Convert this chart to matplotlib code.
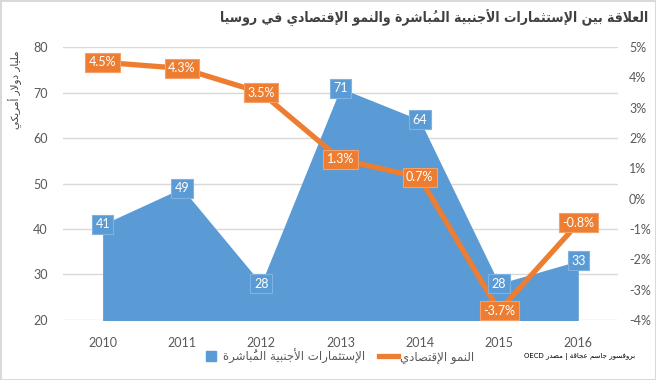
import matplotlib
matplotlib.use("Agg")
import matplotlib.pyplot as plt
from matplotlib.lines import Line2D

years = ["2010", "2011", "2012", "2013", "2014", "2015", "2016"]
fdi = [41, 49, 28, 71, 64, 28, 33]              # billion USD
gdp_growth = [4.5, 4.3, 3.5, 1.3, 0.7, -3.7, -0.8]  # percent

title = "العلاقة بين الإستثمارات الأجنبية المُباشرة والنمو الإقتصادي في روسيا"
ylabel = "مليار دولار أمريكي"
fdi_name = "الإستثمارات الأجنبية المُباشرة"
gdp_name = "النمو الإقتصادي"
source = "بروفسور جاسم عجاقة | مصدر OECD"

BLUE = "#5B9BD5"
ORANGE = "#ED7D31"
GREY = "#595959"

# --- minimal Arabic shaping (matplotlib has no text shaping / bidi) ---
DUAL = {"ب": 0xFE8F, "ت": 0xFE95, "ث": 0xFE99, "ج": 0xFE9D, "س": 0xFEB1,
        "ش": 0xFEB5, "ص": 0xFEB9, "ع": 0xFEC9, "ف": 0xFED1, "ق": 0xFED5,
        "ك": 0xFED9, "ل": 0xFEDD, "م": 0xFEE1, "ن": 0xFEE5, "ي": 0xFEF1}
RIGHT = {"أ": 0xFE83, "إ": 0xFE87, "ا": 0xFE8D, "ة": 0xFE93, "د": 0xFEA9,
         "ر": 0xFEAD, "و": 0xFEED}
LAMALEF = {"أ": 0xFEF7, "إ": 0xFEF9, "ا": 0xFEFB}
MARKS = set("\u064B\u064C\u064D\u064E\u064F\u0650\u0651\u0652")


def shape(text):
    toks = []
    i = 0
    while i < len(text):
        c = text[i]
        if c == "ل" and i + 1 < len(text) and text[i + 1] in LAMALEF:
            toks.append(["R", LAMALEF[text[i + 1]]])
            i += 2
            continue
        if c in DUAL:
            toks.append(["D", DUAL[c]])
        elif c in RIGHT:
            toks.append(["R", RIGHT[c]])
        elif c in MARKS:
            toks.append(["M", c])
        else:
            toks.append(["N", c])
        i += 1
    joining = [k for k, t in enumerate(toks) if t[0] != "M"]
    glyphs = []
    for k, t in enumerate(toks):
        if t[0] in ("M", "N"):
            glyphs.append((t[0], t[1]))
            continue
        pos = joining.index(k)
        prev = toks[joining[pos - 1]] if pos > 0 else None
        nxt = toks[joining[pos + 1]] if pos + 1 < len(joining) else None
        jp = prev is not None and prev[0] == "D"
        jn = t[0] == "D" and nxt is not None and nxt[0] in ("D", "R")
        if t[0] == "D":
            off = {(False, False): 0, (True, False): 1,
                   (False, True): 2, (True, True): 3}[(jp, jn)]
        else:
            off = 1 if jp else 0
        glyphs.append(("A", chr(t[1] + off)))
    # clusters (latin words stay left-to-right), then reverse for display
    clusters = []
    for kind, g in glyphs:
        if kind == "N" and g.isascii() and g.isalnum() and clusters \
                and clusters[-1][-1].isascii() and clusters[-1][-1].isalnum():
            clusters[-1] += g
        else:
            clusters.append(g)
    return "".join(reversed(clusters))


plt.rcParams["font.family"] = ["Lato", "DejaVu Sans"]

fig = plt.figure(figsize=(6.56, 3.80), dpi=100)
fig.patch.set_edgecolor("#D9D9D9")
fig.patch.set_linewidth(1)
ax = fig.add_axes([0.096, 0.158, 0.846, 0.718])
ax2 = ax.twinx()

x = list(range(len(years)))
ax.fill_between(x, 0, fdi, color=BLUE, lw=0, zorder=2)
ax.set_ylim(20, 80)
ax.set_yticks(range(20, 81, 10))
ax.set_xlim(-0.5, len(years) - 0.5)
ax.set_xticks(x)
ax.set_xticklabels(years)
ax.grid(axis="y", color="#D9D9D9", lw=1, zorder=0)
ax.set_axisbelow(True)

ax2.plot(x, gdp_growth, color=ORANGE, lw=3.8, solid_joinstyle="miter", zorder=3)
ax2.set_ylim(-4, 5)
ax2.set_yticks(range(-4, 6))
ax2.set_yticklabels([f"{v}%" for v in range(-4, 6)])

for a in (ax, ax2):
    for s in a.spines.values():
        s.set_visible(False)
    a.tick_params(length=0, labelsize=9, labelcolor=GREY)
ax.tick_params(axis="x", pad=12)
ax.tick_params(axis="y", pad=11)
ax2.tick_params(axis="y", pad=8)

for xi, v in zip(x, fdi):
    ax2.text(xi, v, str(v), transform=ax.transData, ha="center", va="center",
             fontsize=9, color="white", zorder=5,
             bbox=dict(boxstyle="square,pad=0.28", fc=BLUE, ec="#7FB2E0", lw=0.8))
for xi, v in zip(x, gdp_growth):
    ax2.text(xi, v, f"{v}%", ha="center", va="center", fontsize=9,
             color="white", zorder=6,
             bbox=dict(boxstyle="square,pad=0.28", fc=ORANGE, ec="#F4A06A", lw=0.8))

fig.text(0.988, 0.952, shape(title), ha="right", va="center", fontsize=10,
         fontweight="bold", fontstretch="condensed", color="#404040",
         family="DejaVu Sans")
fig.text(0.023, 0.763, shape(ylabel), rotation=90, ha="center", va="center",
         fontsize=7.5, color="#404040", family="DejaVu Sans")
fig.text(0.968, 0.063, shape(source), ha="right", va="center", fontsize=5,
         color="black", family="DejaVu Sans")

handles = [Line2D([], [], color=BLUE, marker="s", ls="none", markersize=7),
           Line2D([], [], color=ORANGE, lw=3.8)]
fig.legend(handles, [shape(fdi_name), shape(gdp_name)], loc="center",
           bbox_to_anchor=(0.515, 0.063), ncol=2, frameon=False,
           handlelength=1.6, handletextpad=0.2, columnspacing=1.2,
           labelcolor=GREY, prop={"family": "DejaVu Sans", "size": 8.5})

fig.savefig("out.png", dpi=100)
